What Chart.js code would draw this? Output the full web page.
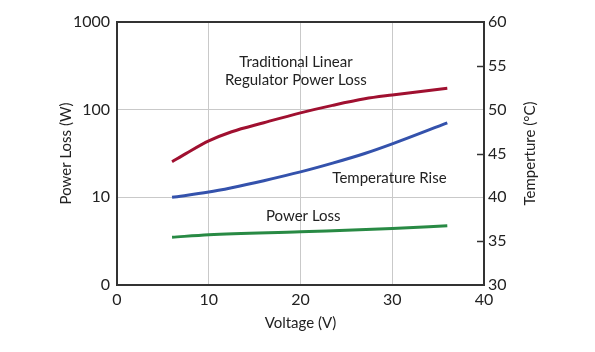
<!DOCTYPE html>
<html>
<head>
  <title>Power Loss vs Voltage</title>
  <script src="https://cdn.jsdelivr.net/npm/chart.js"></script>
  <style>
    body { margin: 0; background: #fff; }
  </style>
</head>
<body>
  <canvas id="lossChart" width="595" height="352"></canvas>

  <script>
    // values
    const linearVoltage = [6, 7.5, 10, 12.5, 16, 20, 23.5, 27, 30, 36];
    const linearLoss = [25.5, 31.5, 44, 56, 71, 92, 112, 133, 147, 176];

    const tempVoltage = [6, 10, 12.5, 16, 20, 23.5, 27, 30, 36];
    const tempRise = [40.0, 40.6, 41.1, 41.9, 42.9, 43.9, 45.0, 46.1, 48.5];

    const lossVoltage = [6, 10, 20, 30, 36];
    const powerLoss = [3.5, 3.75, 4.05, 4.4, 4.75];

    const lossTicks = [1, 10, 100, 1000];
    const lossTickLabels = ['0', '10', '100', '1000'];
    const tempTickMarks = [35, 45, 55];
    const tempTitle = 'Temperture (°C)';

    // text labels inside the plot, placed in data units (x: volts, y: temperature axis)
    const notes = [
      { lines: ['Traditional Linear', 'Regulator Power Loss'], x: 19.5, y: 54.4 },
      { lines: ['Temperature Rise'], x: 29.7, y: 42.2 },
      { lines: ['Power Loss'], x: 20.3, y: 37.9 }
    ];

    const FONT = 'Lato, "Noto Sans", sans-serif';
    const TEXT = '#222';
    const AXIS = '#333';
    const GRID = '#c9c9c9';

    const toPoints = (xs, ys) => xs.map((x, i) => ({ x: x, y: ys[i] }));

    // frame, inner tick marks on the temperature axis, right title and the curve labels
    const extras = {
      id: 'extras',
      beforeDatasetsDraw(chart) {
        const { ctx, chartArea: a } = chart;
        const temp = chart.scales.yTemp;
        ctx.save();
        ctx.strokeStyle = AXIS;
        ctx.lineWidth = 2;
        ctx.strokeRect(a.left, a.top, a.right - a.left, a.bottom - a.top);
        ctx.lineWidth = 1.5;
        tempTickMarks.forEach(v => {
          const y = Math.round(temp.getPixelForValue(v)) + 0.5;
          ctx.beginPath();
          ctx.moveTo(a.right - 7, y);
          ctx.lineTo(a.right, y);
          ctx.stroke();
        });
        ctx.restore();
      },
      afterDraw(chart) {
        const { ctx, chartArea: a } = chart;
        const xs = chart.scales.x;
        const ys = chart.scales.yTemp;
        ctx.save();
        ctx.fillStyle = TEXT;
        ctx.font = '15px ' + FONT;
        ctx.textAlign = 'center';
        ctx.textBaseline = 'middle';
        notes.forEach(n => {
          const px = xs.getPixelForValue(n.x);
          const py = ys.getPixelForValue(n.y);
          const lh = 18;
          const top = py - (n.lines.length - 1) * lh / 2;
          n.lines.forEach((t, i) => ctx.fillText(t, px, top + i * lh));
        });
        // right axis title reads bottom-to-top like the left one
        ctx.translate(ys.right - 65, (a.top + a.bottom) / 2);
        ctx.rotate(-Math.PI / 2);
        ctx.fillText(tempTitle, 0, 0);
        ctx.restore();
      }
    };

    const ctx = document.getElementById('lossChart').getContext('2d');
    const chart = new Chart(ctx, {
      type: 'line',
      data: {
        datasets: [
          {
            label: 'Traditional Linear Regulator Power Loss',
            data: toPoints(linearVoltage, linearLoss),
            borderColor: 'rgb(160, 16, 48)',
            yAxisID: 'yLoss'
          },
          {
            label: 'Temperature Rise',
            data: toPoints(tempVoltage, tempRise),
            borderColor: 'rgb(52, 82, 172)',
            yAxisID: 'yTemp'
          },
          {
            label: 'Power Loss',
            data: toPoints(lossVoltage, powerLoss),
            borderColor: 'rgb(40, 138, 68)',
            yAxisID: 'yLoss'
          }
        ]
      },
      options: {
        responsive: false,
        animation: false,
        events: [],
        layout: { padding: { top: 22, left: 0, right: 0, bottom: 0 } },
        elements: {
          point: { radius: 0 },
          line: { borderWidth: 3, tension: 0.4, fill: false, cubicInterpolationMode: 'monotone' }
        },
        plugins: {
          legend: { display: false },
          tooltip: { enabled: false }
        },
        scales: {
          x: {
            type: 'linear',
            min: 0,
            max: 40,
            border: { display: false },
            grid: {
              drawTicks: false,
              color: c => (c.tick && c.tick.value > 0 && c.tick.value < 40) ? GRID : 'transparent'
            },
            ticks: { stepSize: 10, padding: 5, color: TEXT, font: { family: FONT, size: 16 } },
            title: {
              display: true,
              text: 'Voltage (V)',
              color: TEXT,
              font: { family: FONT, size: 15 },
              padding: { top: 0, bottom: 20 }
            },
            afterFit: s => { s.height = 67; }
          },
          yLoss: {
            type: 'logarithmic',
            position: 'left',
            min: 1,
            max: 1000,
            border: { display: false },
            grid: {
              drawTicks: false,
              color: c => (c.tick && (c.tick.value === 10 || c.tick.value === 100)) ? GRID : 'transparent'
            },
            afterBuildTicks: s => { s.ticks = lossTicks.map(v => ({ value: v })); },
            ticks: {
              padding: 7,
              color: TEXT,
              font: { family: FONT, size: 16 },
              callback: v => lossTickLabels[lossTicks.indexOf(v)]
            },
            title: {
              display: true,
              text: 'Power Loss (W)',
              color: TEXT,
              font: { family: FONT, size: 15 },
              padding: { top: 57, bottom: 0 }
            },
            afterFit: s => { s.width = 117; }
          },
          yTemp: {
            type: 'linear',
            position: 'right',
            min: 30,
            max: 60,
            border: { display: false },
            grid: { display: false, drawTicks: false },
            ticks: { stepSize: 5, padding: 4, color: TEXT, font: { family: FONT, size: 16 } },
            afterFit: s => { s.width = 111; }
          }
        }
      },
      plugins: [extras]
    });
  </script>
</body>
</html>
